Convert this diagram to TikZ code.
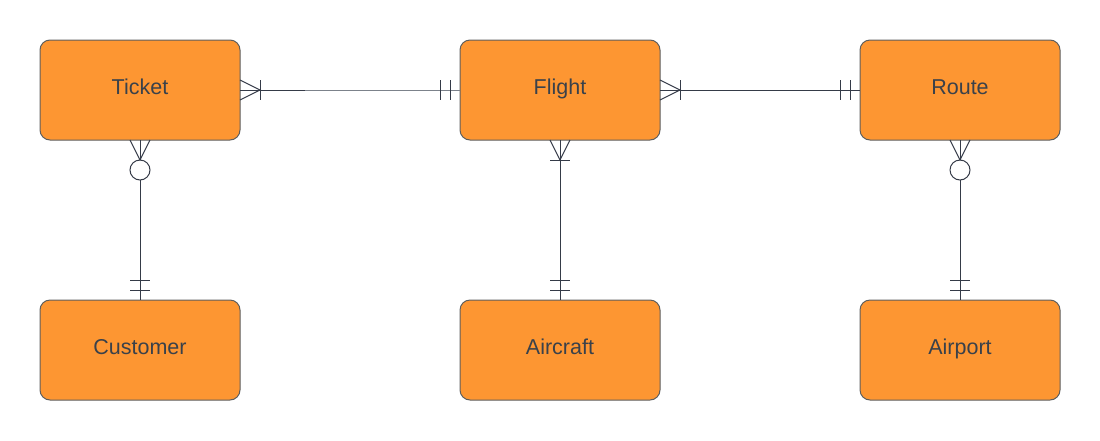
\documentclass[tikz,border=0pt]{standalone}
\usepackage{fontspec}
\setmainfont{Liberation Sans}
\usetikzlibrary{calc}
\definecolor{boxfill}{HTML}{FD9632}
\definecolor{boxline}{HTML}{5E5E5E}
\definecolor{txt}{HTML}{3A414A}
\definecolor{ln}{HTML}{353B48}
\definecolor{lnlight}{HTML}{7C828B}
\begin{document}
\begin{tikzpicture}[x=1pt,y=-1pt,
  entity/.style={draw=boxline, fill=boxfill, rounded corners=10pt, minimum width=200pt, minimum height=100pt, line width=1pt, text=txt, font=\fontsize{21.5}{25}\selectfont, text height=16pt, text depth=7.4pt, outer sep=0pt, inner sep=0pt},
  rel/.style={draw=ln, line width=1pt},
  zcirc/.style={circle, draw=ln, line width=1pt, fill=white, minimum size=20pt, inner sep=0pt, outer sep=0pt}]
\useasboundingbox (0,0) rectangle (1100,440);
\fill[white] (0,0) rectangle (1100,440);
\node[entity] (T) at (140,90) {Ticket};
\node[entity] (F) at (560,90) {Flight};
\node[entity] (R) at (960,90) {Route};
\node[entity] (C) at (140,350) {Customer};
\node[entity] (A) at (560,350) {Aircraft};
\node[entity] (P) at (960,350) {Airport};
% Ticket - Flight
\coordinate (tf) at (305,90);
\draw[rel, draw=lnlight] (T.east) -- (F.west);
\draw[rel] (T.east) -- (tf);
\draw[rel] ($(T.east)+(0,-10)$) -- ($(T.east)+(20,0)$) -- ($(T.east)+(0,10)$);
\draw[rel] ($(T.east)+(20,-10)$) -- ($(T.east)+(20,10)$);
\draw[rel] ($(F.west)+(-20,-10)$) -- ($(F.west)+(-20,10)$);
\draw[rel] ($(F.west)+(-10,-10)$) -- ($(F.west)+(-10,10)$);
% Flight - Route
\draw[rel] (F.east) -- (R.west);
\draw[rel] ($(F.east)+(0,-10)$) -- ($(F.east)+(20,0)$) -- ($(F.east)+(0,10)$);
\draw[rel] ($(F.east)+(20,-10)$) -- ($(F.east)+(20,10)$);
\draw[rel] ($(R.west)+(-20,-10)$) -- ($(R.west)+(-20,10)$);
\draw[rel] ($(R.west)+(-10,-10)$) -- ($(R.west)+(-10,10)$);
% Ticket - Customer
\node[zcirc] (c1) at ($(T.south)+(0,30)$) {};
\draw[rel] (T.south) -- (c1.north);
\draw[rel] ($(T.south)+(-10,0)$) -- (c1.north) -- ($(T.south)+(10,0)$);
\draw[rel] (c1.south) -- (C.north);
\draw[rel] ($(C.north)+(-10,-20)$) -- ($(C.north)+(10,-20)$);
\draw[rel] ($(C.north)+(-10,-10)$) -- ($(C.north)+(10,-10)$);
% Flight - Aircraft
\draw[rel] (F.south) -- (A.north);
\draw[rel] ($(F.south)+(-10,0)$) -- ($(F.south)+(0,20)$) -- ($(F.south)+(10,0)$);
\draw[rel] ($(F.south)+(-10,20)$) -- ($(F.south)+(10,20)$);
\draw[rel] ($(A.north)+(-10,-20)$) -- ($(A.north)+(10,-20)$);
\draw[rel] ($(A.north)+(-10,-10)$) -- ($(A.north)+(10,-10)$);
% Route - Airport
\node[zcirc] (c2) at ($(R.south)+(0,30)$) {};
\draw[rel] (R.south) -- (c2.north);
\draw[rel] ($(R.south)+(-10,0)$) -- (c2.north) -- ($(R.south)+(10,0)$);
\draw[rel] (c2.south) -- (P.north);
\draw[rel] ($(P.north)+(-10,-20)$) -- ($(P.north)+(10,-20)$);
\draw[rel] ($(P.north)+(-10,-10)$) -- ($(P.north)+(10,-10)$);
\end{tikzpicture}
\end{document}
